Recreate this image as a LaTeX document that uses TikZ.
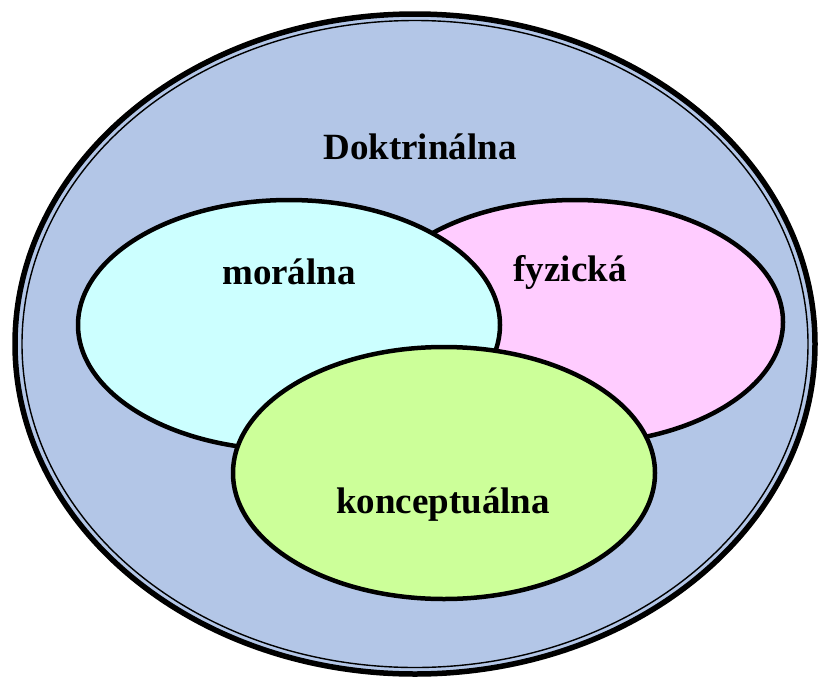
\documentclass[tikz,border=0pt]{standalone}
\usepackage{fontspec}
\setmainfont{Liberation Serif}
\usepackage{tikz}
\definecolor{doktblue}{RGB}{179,198,231}
\definecolor{moralcyan}{RGB}{204,255,255}
\definecolor{fyzpink}{RGB}{255,204,255}
\definecolor{konggreen}{RGB}{204,255,153}

\begin{document}
\begin{tikzpicture}[x=1pt,y=-1pt,
  lbl/.style={font=\fontsize{37}{44}\selectfont\bfseries},
  inner/.style={draw=black,line width=4.5pt}]
  \useasboundingbox (0,0) rectangle (819,678);
  % outer ellipse with thick-thin border
  \fill[doktblue] (415,344) ellipse (400 and 330);
  \draw[line width=5.5pt] (415,344) ellipse (400 and 330);
  \draw[line width=1.4pt] (415,344) ellipse (393 and 323.5);
  \node[lbl] (dokt) at (420,147) {Doktrinálna};
  % three overlapping ellipses
  \draw[inner,fill=fyzpink] (575,322) ellipse (208 and 122);
  \draw[inner,fill=moralcyan] (289,325) ellipse (211 and 125);
  \draw[inner,fill=konggreen] (444,473) ellipse (211 and 126);
  \node[lbl] (moral) at (289,272) {morálna};
  \node[lbl] (fyz) at (570,272) {fyzická};
  \node[lbl] (konc) at (443,505) {konceptuálna};
\end{tikzpicture}
\end{document}
